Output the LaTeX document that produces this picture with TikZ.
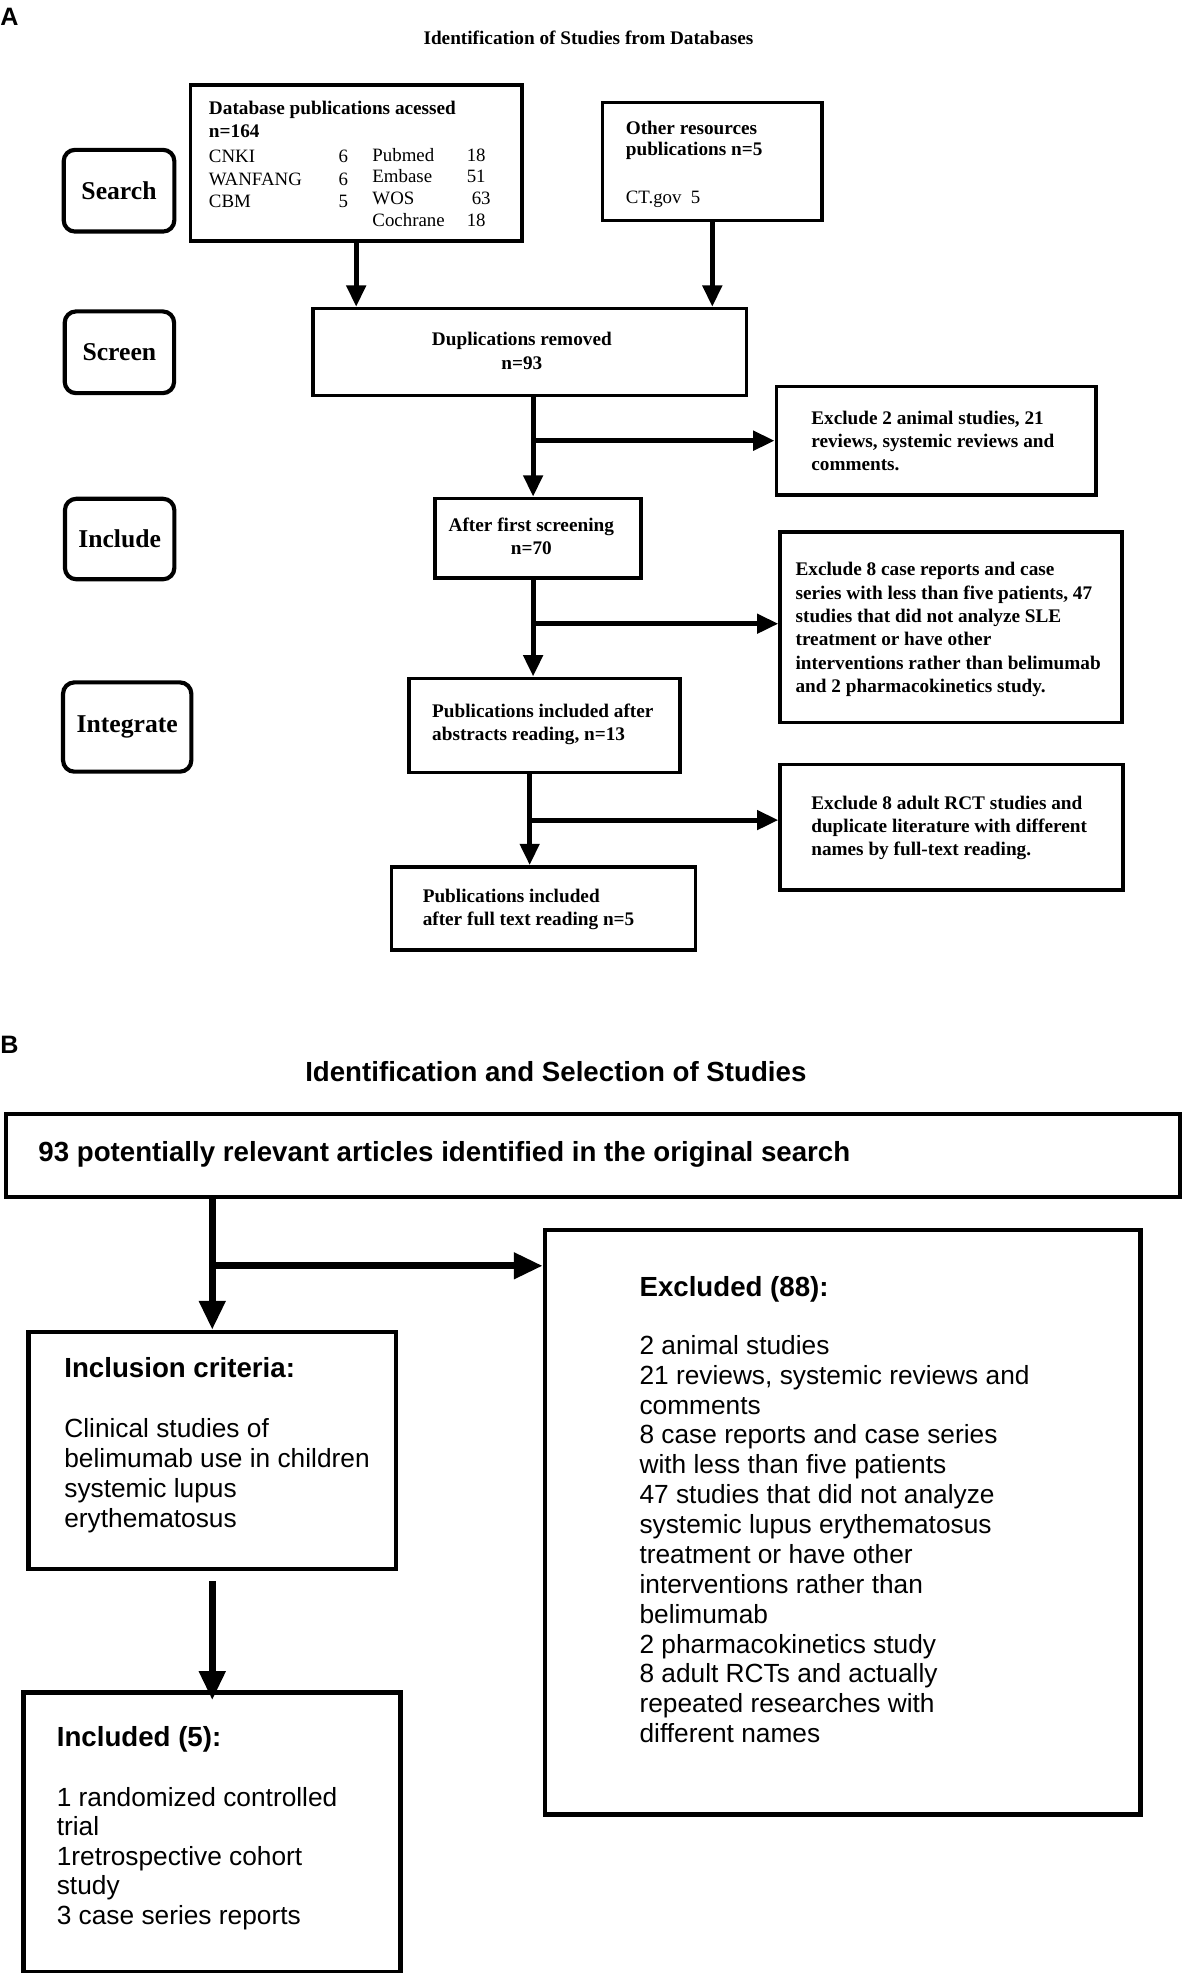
\documentclass[tikz,border=0pt]{standalone}
\usepackage{fontspec}
\setmainfont{Liberation Serif}
\newfontfamily\arialf{Liberation Sans}
\usetikzlibrary{arrows.meta}
\newcommand\Lns[1]{\vtop{\halign{##\hfil\cr#1\crcr}}}
\newcommand\Cns[1]{\vtop{\halign{\hfil##\hfil\cr#1\crcr}}}
\newcommand\Rns[1]{\vtop{\halign{\hfil##\cr#1\crcr}}}
\begin{document}
\begin{tikzpicture}[x=1pt,y=-1pt,
  abox/.style={draw, line width=2.9pt, inner sep=0pt, anchor=north west},
  stagebox/.style={draw, line width=3.3pt, rounded corners=9pt, inner sep=0pt, anchor=north west, font=\fontsize{20.4}{24}\selectfont\bfseries},
  bbox/.style={draw, line width=3.6pt, inner sep=0pt, anchor=north west},
  aarr/.style={line width=4pt, -{Triangle[length=17pt,width=15pt]}},
  barr/.style={line width=5.5pt, -{Triangle[length=23pt,width=20pt]}},
  atx/.style={inner sep=0pt, anchor=base west, font=\fontsize{15.3}{#1}\selectfont\bfseries},
  atx/.default=18.4,
  arx/.style={inner sep=0pt, anchor=base west, font=\fontsize{15}{#1}\selectfont},
  arx/.default=17.5,
  btx/.style={inner sep=0pt, anchor=base west, font=\arialf\fontsize{20.9}{#1}\selectfont},
  btx/.default=23.8,
  bhx/.style={inner sep=0pt, anchor=base west, font=\arialf\bfseries\fontsize{22}{26}\selectfont},
  plab/.style={inner sep=0pt, anchor=base west, font=\arialf\bfseries\fontsize{20}{24}\selectfont}
]
\useasboundingbox (0,0) rectangle (940,1569);

% ---------------- Part A ----------------
\node[plab] (labA) at (0,20) {A};
\node[atx, anchor=base] (titA) at (468,35) {Identification of Studies from Databases};

\node[stagebox, minimum width=88pt, minimum height=65pt] (search) at (49,117.5) {Search};
\node[stagebox, minimum width=87pt, minimum height=65pt] (screen) at (49.8,246) {Screen};
\node[stagebox, minimum width=87pt, minimum height=64pt] (include) at (50,395) {Include};
\node[stagebox, minimum width=102pt, minimum height=71pt] (integ) at (48.5,541) {Integrate};

\node[abox, minimum width=263.6pt, minimum height=124pt] (db) at (150,66) {};
\node[atx] (dbh) at (166,91) {\Lns{Database publications acessed\cr n=164}};
\node[arx=17.9] (dbl) at (166,129.6) {\Lns{CNKI\cr WANFANG\cr CBM}};
\node[arx=17.9, anchor=base east] (dbln) at (277,129.6) {\Rns{6\cr 6\cr 5}};
\node[arx=17.2] (dbr) at (296,128.3) {\Lns{Pubmed\cr Embase\cr WOS\cr Cochrane}};
\node[arx=17.2] (dbrn) at (371,128.3) {\Lns{18\cr 51\cr \hspace{4pt}63\cr 18}};

\node[abox, minimum width=174.4pt, minimum height=94pt] (oth) at (477.8,80) {};
\node[atx=17] (othh) at (497.5,107) {\Lns{Other resources\cr publications n=5}};
\node[arx] (othc) at (497.5,161.5) {CT.gov\ \ 5};

\node[abox, minimum width=344.7pt, minimum height=69pt] (dup) at (247.6,244) {};
\node[atx=18.5, anchor=base] (duptx) at (415,275) {\Cns{Duplications removed\cr n=93}};

\node[abox, minimum width=254pt, minimum height=86pt] (ex1) at (616,306) {};
\node[atx=18.3] (ex1tx) at (645,337.6) {\Lns{Exclude 2 animal studies, 21\cr reviews, systemic reviews and\cr comments.}};

\node[abox, minimum width=164pt, minimum height=63pt] (aft) at (344.5,395) {};
\node[atx=18.2, anchor=base] (afttx) at (422.5,422.9) {\Cns{After first screening\cr n=70}};

\node[abox, minimum width=272pt, minimum height=151.5pt] (ex2) at (619,421.5) {};
\node[atx=18.6] (ex2tx) at (632.5,457.8) {\Lns{Exclude 8 case reports and case\cr series with less than five patients, 47\cr studies that did not analyze SLE\cr treatment or have other\cr interventions rather than belimumab\cr and 2 pharmacokinetics study.}};

\node[abox, minimum width=215.5pt, minimum height=75pt] (pub) at (324,538) {};
\node[atx=18.2] (pubtx) at (343.5,570.5) {\Lns{Publications included after\cr abstracts reading, n=13}};

\node[abox, minimum width=272.5pt, minimum height=100pt] (ex3) at (619,606.5) {};
\node[atx=18.25] (ex3tx) at (645,643.5) {\Lns{Exclude 8 adult RCT studies and\cr duplicate literature with different\cr names by full-text reading.}};

\node[abox, minimum width=241.5pt, minimum height=66pt] (fin) at (310,688) {};
\node[atx=18.3] (fintx) at (336,718) {\Lns{Publications included\cr after full text reading n=5}};

\draw[aarr] (db.south) -- (db.south |- dup.north);
\draw[aarr] (oth.south) -- (oth.south |- dup.north);
\draw[aarr] ([xshift=-4pt]aft.north |- dup.south) -- ([xshift=-4pt]aft.north);
\draw[aarr] ([xshift=-4pt]aft.north |- ex1.west) -- (ex1.west);
\draw[aarr] ([xshift=-4pt]aft.south) -- ([xshift=-4pt]aft.south |- pub.north);
\coordinate (ex2b) at ([yshift=2.7pt]ex2.west);
\draw[aarr] ([xshift=-4pt]aft.south |- ex2b) -- (ex2b);
\draw[aarr] ([xshift=-12pt]pub.south) -- ([xshift=-12pt]pub.south |- fin.north);
\coordinate (ex3b) at ([yshift=5.8pt]ex3.west);
\draw[aarr] ([xshift=-12pt]pub.south |- ex3b) -- (ex3b);

% ---------------- Part B ----------------
\node[plab] (labB) at (0,837.5) {B};
\node[bhx, anchor=base] (titB) at (442,860) {Identification and Selection of Studies};

\node[bbox, minimum width=933.5pt, minimum height=66pt] (top1) at (3,884) {};
\node[bhx] (top1tx) at (30.4,923.5) {93 potentially relevant articles identified in the original search};

\node[bbox, minimum width=473.4pt, minimum height=464.5pt] (excl) at (431.6,976.5) {};
\node[bhx] (exclh) at (508.4,1030.8) {Excluded (88):};
\node[btx=23.76] (excltx) at (508.4,1077) {\Lns{2 animal studies\cr 21 reviews, systemic reviews and\cr comments\cr 8 case reports and case series\cr with less than five patients\cr 47 studies that did not analyze\cr systemic lupus erythematosus\cr treatment or have other\cr interventions rather than\cr belimumab\cr 2 pharmacokinetics study\cr 8 adult RCTs and actually\cr repeated researches with\cr different names}};

\node[bbox, minimum width=292pt, minimum height=188.5pt] (incl) at (21,1057.5) {};
\node[bhx] (inclh) at (51,1095.5) {Inclusion criteria:};
\node[btx=23.9] (incltx) at (51,1143.2) {\Lns{Clinical studies of\cr belimumab use in children\cr systemic lupus\cr erythematosus}};

\node[bbox, minimum width=299.7pt, minimum height=222.7pt] (inc5) at (16.8,1344) {};
\node[bhx] (inc5h) at (45,1388.5) {Included (5):};
\node[btx=23.5] (inc5tx) at (45,1436.4) {\Lns{1 randomized controlled\cr trial\cr 1retrospective cohort\cr study\cr 3 case series reports}};

\draw[barr] (top1.south -| incl.north) -- (incl.north);
\coordinate (brB) at ([yshift=-53pt]top1.south -| incl.north);
\draw[barr] (brB) -- (brB -| excl.west);
\draw[barr] ([yshift=-8pt]incl.south) -- ([yshift=-8pt]incl.south |- inc5.north);
\end{tikzpicture}
\end{document}
